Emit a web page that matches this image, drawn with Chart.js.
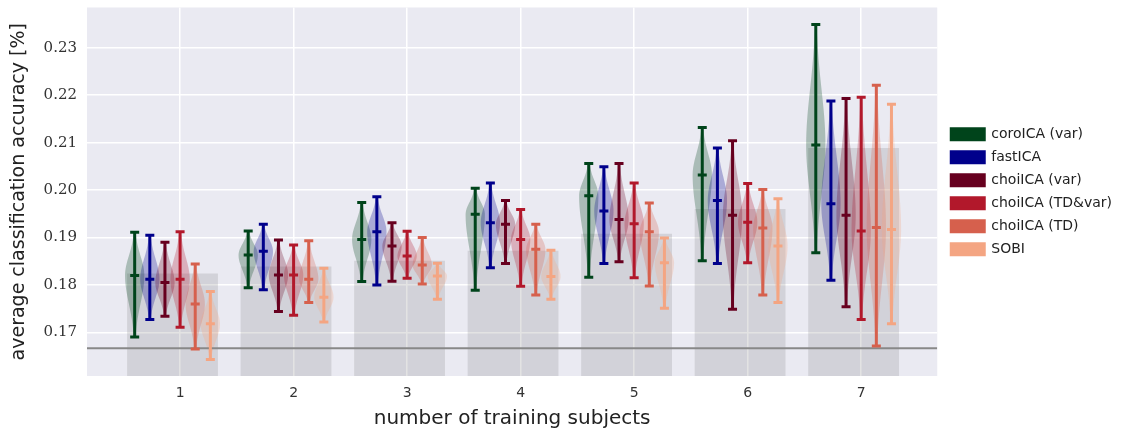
<!DOCTYPE html>
<html>
<head>
<meta charset="utf-8">
<script src="https://cdn.jsdelivr.net/npm/chart.js@4.4.1/dist/chart.umd.min.js"></script>
<style>
  html, body { margin: 0; padding: 0; background: #fff; }
  #wrap { width: 1129px; height: 431px; }
</style>
</head>
<body>
<div id="wrap"><canvas id="myChart"></canvas></div>
<script>
const groups = [1, 2, 3, 4, 5, 6, 7]
const methods = ['coroICA (var)', 'fastICA', 'choiICA (var)', 'choiICA (TD&var)', 'choiICA (TD)', 'SOBI']
const colors = ['#00441b', '#00008b', '#67001f', '#b2182b', '#d6604d', '#f4a582']

// per method: minimum, median, maximum accuracy for 1..7 training subjects
const lows = [
  [0.1690, 0.1794, 0.1807, 0.1789, 0.1816, 0.1851, 0.1868],
  [0.1727, 0.1790, 0.1800, 0.1836, 0.1845, 0.1845, 0.1810],
  [0.1734, 0.1744, 0.1808, 0.1845, 0.1849, 0.1749, 0.1754],
  [0.1711, 0.1736, 0.1814, 0.1797, 0.1815, 0.1847, 0.1727],
  [0.1665, 0.1763, 0.1802, 0.1779, 0.1798, 0.1779, 0.1671],
  [0.1643, 0.1722, 0.1770, 0.1770, 0.1751, 0.1763, 0.1718]
]
const medians = [
  [0.1820, 0.1863, 0.1896, 0.1949, 0.1988, 0.2032, 0.2095],
  [0.1812, 0.1871, 0.1912, 0.1931, 0.1956, 0.1978, 0.1971],
  [0.1805, 0.1821, 0.1882, 0.1928, 0.1938, 0.1947, 0.1947],
  [0.1812, 0.1821, 0.1861, 0.1896, 0.1929, 0.1932, 0.1914],
  [0.1760, 0.1812, 0.1842, 0.1875, 0.1912, 0.1920, 0.1921],
  [0.1718, 0.1774, 0.1819, 0.1818, 0.1847, 0.1882, 0.1917]
]
const highs = [
  [0.1911, 0.1914, 0.1974, 0.2004, 0.2056, 0.2132, 0.2349],
  [0.1905, 0.1928, 0.1986, 0.2015, 0.2049, 0.2089, 0.2188],
  [0.1890, 0.1895, 0.1931, 0.1978, 0.2056, 0.2104, 0.2193],
  [0.1912, 0.1884, 0.1913, 0.1959, 0.2015, 0.2014, 0.2196],
  [0.1844, 0.1893, 0.1900, 0.1928, 0.1973, 0.2001, 0.2221],
  [0.1786, 0.1835, 0.1846, 0.1873, 0.1899, 0.1982, 0.2181]
]
// grey background bars and chance level
const greyBars = [0.1824, 0.1839, 0.1851, 0.1872, 0.1908, 0.1960, 0.2089]
const chance = 1 / 6
const yTicks = [0.17, 0.18, 0.19, 0.20, 0.21, 0.22, 0.23]

const xMin = 0.18, xMax = 7.67
const yMin = 0.1608, yMax = 0.2385
const offsets = methods.map((m, i) => (i - 3) * 0.4 / 3)
const barShift = offsets.reduce((a, b) => a + b, 0) / offsets.length
const violinHalf = 0.085

const fade = (hex, a) => {
  const n = parseInt(hex.slice(1), 16)
  return `rgba(${n >> 16},${(n >> 8) & 255},${n & 255},${a})`
}

//fondo gris del area
const bgPlugin = {
  id: 'bg',
  beforeDraw(chart) {
    const {ctx, chartArea: a} = chart
    ctx.save()
    ctx.fillStyle = '#eaeaf2'
    ctx.fillRect(a.left, a.top, a.right - a.left, a.bottom - a.top)
    ctx.restore()
  }
}

//mover la leyenda un poco a la derecha
const legendShift = {
  id: 'legendShift',
  afterLayout(chart) {
    if (chart.legend) {
      chart.legend.left += 5
      chart.legend.right += 5
    }
  }
}

//violines, se dibujan justo despues de las barras grises
const violinPlugin = {
  id: 'violins',
  afterDatasetDraw(chart, args) {
    if (args.index !== 0) return
    const {ctx, scales: {x, y}} = chart
    ctx.save()
    methods.forEach((m, i) => {
      ctx.fillStyle = fade(colors[i], 0.27)
      groups.forEach((g, j) => {
        const lo = lows[i][j], md = medians[i][j], hi = highs[i][j]
        const xc = g + offsets[i]
        const px = x.getPixelForValue(xc)
        const w = x.getPixelForValue(xc + violinHalf) - px
        const steps = 40
        const pts = []
        for (let k = 0; k <= steps; k++) {
          const v = lo + (hi - lo) * k / steps
          const s = v > md ? (hi - md) / 2.2 : (md - lo) / 2.2
          const f = Math.exp(-0.5 * Math.pow((v - md) / (s || 1), 2))
          pts.push([y.getPixelForValue(v), w * f])
        }
        ctx.beginPath()
        pts.forEach((p, k) => k ? ctx.lineTo(px + p[1], p[0]) : ctx.moveTo(px + p[1], p[0]))
        for (let k = pts.length - 1; k >= 0; k--) ctx.lineTo(px - pts[k][1], pts[k][0])
        ctx.closePath()
        ctx.fill()
      })
    })
    ctx.restore()
  }
}

const datasets = [
  {
    type: 'bar',
    label: 'bars',
    data: groups.map((g, j) => ({x: g + barShift, y: greyBars[j]})),
    backgroundColor: 'rgba(128,128,128,0.22)',
    base: yMin,
    barPercentage: 1,
    categoryPercentage: 0.8,
    order: 10
  },
  {
    type: 'line',
    label: 'chance',
    data: [{x: xMin, y: chance}, {x: xMax, y: chance}],
    borderColor: '#888888',
    borderWidth: 2,
    pointRadius: 0,
    order: 5
  }
]
methods.forEach((m, i) => {
  datasets.push({
    type: 'line',
    label: m,
    data: groups.flatMap((g, j) => [
      {x: g + offsets[i], y: lows[i][j]},
      {x: g + offsets[i], y: medians[i][j]},
      {x: g + offsets[i], y: highs[i][j]},
      {x: g + offsets[i], y: null}
    ]),
    borderColor: colors[i],
    backgroundColor: colors[i],
    borderWidth: 3,
    pointStyle: 'line',
    pointRadius: 4.5,
    pointBorderWidth: 3,
    pointBorderColor: colors[i],
    spanGaps: false,
    order: 1
  })
})

const ctx = document.getElementById('myChart')
new Chart(ctx, {
  type: 'bar',
  data: {datasets: datasets},
  plugins: [bgPlugin, violinPlugin, legendShift],
  options: {
    responsive: true,
    maintainAspectRatio: false,
    animation: false,
    events: [],
    layout: {padding: {top: 6, right: 12, left: 0, bottom: 0}},
    plugins: {
      tooltip: {enabled: false},
      legend: {
        position: 'right',
        fullSize: false,
        labels: {
          filter: item => item.datasetIndex >= 2,
          boxWidth: 33,
          boxHeight: 11,
          padding: 9,
          color: '#222',
          font: {family: 'DejaVu Sans', size: 14}
        }
      }
    },
    scales: {
      x: {
        type: 'linear',
        min: xMin,
        max: xMax,
        offset: false,
        afterBuildTicks: axis => { axis.ticks = groups.map(v => ({value: v})) },
        afterFit: axis => { axis.height = 55; axis.paddingLeft = 0; axis.paddingRight = 0 },
        grid: {color: '#ffffff', lineWidth: 1.5, drawTicks: false, offset: false},
        border: {display: false},
        ticks: {padding: 9, maxRotation: 0, color: '#333', font: {family: 'DejaVu Sans', size: 14}, callback: v => String(v)},
        title: {display: true, text: 'number of training subjects', color: '#222', font: {family: 'DejaVu Sans', size: 20}, padding: {top: 0, bottom: 0}}
      },
      y: {
        type: 'linear',
        min: yMin,
        max: yMax,
        afterBuildTicks: axis => { axis.ticks = yTicks.map(v => ({value: v})) },
        afterFit: axis => { axis.width = 87; axis.paddingTop = 0; axis.paddingBottom = 0 },
        grid: {color: '#ffffff', lineWidth: 1.5, drawTicks: false},
        border: {display: false},
        ticks: {padding: 10, color: '#333', font: {family: 'DejaVu Serif', size: 15}, callback: v => v.toFixed(2)},
        title: {display: true, text: 'average classification accuracy [%]', color: '#222', font: {family: 'DejaVu Sans', size: 19}, padding: {top: 8, bottom: 0}}
      }
    }
  }
})
</script>
</body>
</html>
